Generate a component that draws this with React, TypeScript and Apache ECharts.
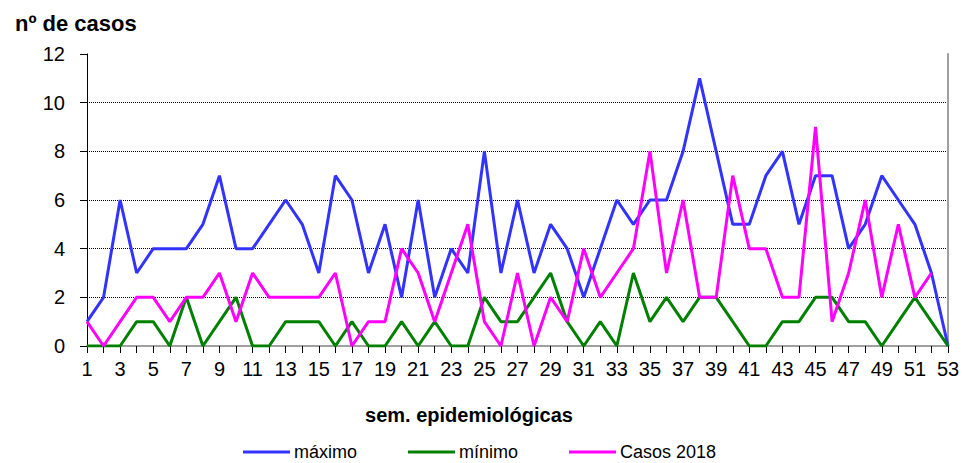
import React, { useEffect, useRef } from "react";
import * as echarts from "echarts";

const weeks = ["1","2","3","4","5","6","7","8","9","10","11","12","13","14","15","16","17","18","19","20","21","22","23","24","25","26","27","28","29","30","31","32","33","34","35","36","37","38","39","40","41","42","43","44","45","46","47","48","49","50","51","52","53"];

const maximo = [1,2,6,3,4,4,4,5,7,4,4,5,6,5,3,7,6,3,5,2,6,2,4,3,8,3,6,3,5,4,2,4,6,5,6,6,8,11,8,5,5,7,8,5,7,7,4,5,7,6,5,3,0];
const minimo = [0,0,0,1,1,0,2,0,1,2,0,0,1,1,1,0,1,0,0,1,0,1,0,0,2,1,1,2,3,1,0,1,0,3,1,2,1,2,2,1,0,0,1,1,2,2,1,1,0,1,2,1,0];
const casos2018 = [1,0,1,2,2,1,2,2,3,1,3,2,2,2,2,3,0,1,1,4,3,1,3,5,1,0,3,0,2,1,4,2,3,4,8,3,6,2,2,7,4,4,2,2,9,1,3,6,2,5,2,3,null];

const seriesNames = ["máximo", "mínimo", "Casos 2018"];
const colors = ["#3333FF", "#008000", "#FF00FF"];

const FONT = "Liberation Sans, Arial, sans-serif";

export default function App() {
  const ref = useRef<HTMLDivElement>(null);
  useEffect(() => {
    if (!ref.current) return;
    const chart = echarts.init(ref.current, null, { renderer: "svg" });
    const values = [maximo, minimo, casos2018];
    const legendLefts = [243, 408, 569];
    chart.setOption({
      animation: false,
      backgroundColor: "#ffffff",
      textStyle: { fontFamily: FONT },
      grid: { left: 87, right: 16, top: 54, bottom: 117 },
      title: [
        {
          text: "nº de casos",
          left: 10,
          top: 7,
          textStyle: { fontFamily: FONT, fontSize: 22, fontWeight: "bold", color: "#000" },
        },
        {
          text: "sem. epidemiológicas",
          left: 464,
          textAlign: "center",
          top: 400,
          textStyle: { fontFamily: FONT, fontSize: 20, fontWeight: "bold", color: "#000" },
        },
      ],
      legend: seriesNames.map((n, i) => ({
        data: [n],
        left: legendLefts[i],
        top: 443,
        icon: "rect",
        itemWidth: 47,
        itemHeight: 3,
        itemGap: 4,
        padding: 0,
        textStyle: { fontFamily: FONT, fontSize: 18, color: "#000", padding: [0, 0, 0, -1] },
      })),
      xAxis: [
        {
          type: "category",
          data: weeks,
          boundaryGap: false,
          axisLine: { lineStyle: { color: "#000", width: 1 } },
          axisTick: { show: true, interval: 0, length: 7, lineStyle: { color: "#000" } },
          axisLabel: { interval: 1, fontSize: 20, color: "#000", margin: 13, fontFamily: FONT },
          splitLine: { show: false },
        },
        {
          type: "category",
          data: weeks,
          boundaryGap: false,
          position: "top",
          axisLine: { lineStyle: { color: "#a0a0a0", width: 2 } },
          axisTick: { show: false },
          axisLabel: { show: false },
        },
      ],
      yAxis: [
        {
          type: "value",
          min: 0,
          max: 12,
          interval: 2,
          axisLine: { show: true, lineStyle: { color: "#000", width: 1 } },
          axisTick: { show: true, length: 7, lineStyle: { color: "#000" } },
          axisLabel: { fontSize: 20, color: "#000", margin: 22, fontFamily: FONT },
          splitLine: {
            show: true,
            showMaxLine: false,
            showMinLine: false,
            lineStyle: { color: "#000", type: [1, 1], width: 1 },
          },
        },
        {
          type: "value",
          min: 0,
          max: 12,
          interval: 2,
          position: "right",
          axisLine: { show: true, lineStyle: { color: "#a0a0a0", width: 2 } },
          axisTick: { show: false },
          axisLabel: { show: false },
          splitLine: { show: false },
        },
      ],
      series: seriesNames.map((n, i) => ({
        name: n,
        type: "line",
        data: values[i],
        symbol: "none",
        color: colors[i],
        lineStyle: { width: 3, color: colors[i] },
        z: 3 + i,
      })),
    });
    return () => chart.dispose();
  }, []);
  return <div ref={ref} style={{ width: 964, height: 463, position: "absolute", left: 0, top: 0 }} />;
}
